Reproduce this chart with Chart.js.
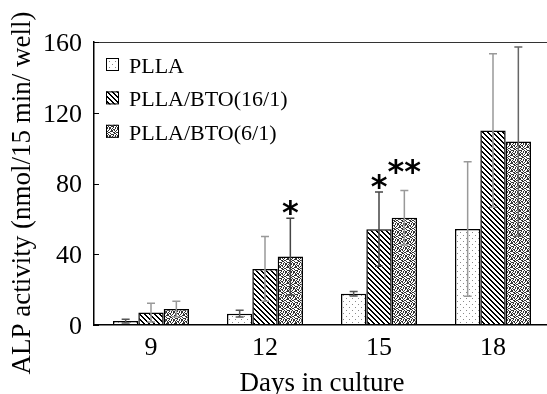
<!DOCTYPE html>
<html>
<head>
<meta charset="utf-8">
<script src="https://cdn.jsdelivr.net/npm/chart.js@4.4.1/dist/chart.umd.min.js"></script>
<style>
  html, body { margin: 0; padding: 0; background: #fff; overflow: hidden; }
  #wrap { width: 547px; height: 394px; overflow: hidden; }
  canvas { display: block; }
</style>
</head>
<body>
<div id="wrap"><canvas id="alpChart" width="560" height="400"></canvas></div>
<script>
// data
const days = ['9', '12', '15', '18'];
const seriesNames = ['PLLA', 'PLLA/BTO(16/1)', 'PLLA/BTO(6/1)'];
const pllaMean  = [2.2, 6.4, 17.7, 54.3];
const bto16Mean = [7.0, 31.7, 54.2, 110.0];
const bto6Mean  = [9.0, 38.7, 60.7, 103.7];
const pllaSD  = [1.0, 1.9, 1.3, 38.0];
const bto16SD = [5.3, 18.3, 21.0, 43.4];
const bto6SD  = [4.4, 21.7, 15.4, 53.5];
const yTicks = [0, 40, 80, 120, 160];

// significance marks (day, series index, text, height in y units)
const starDays   = ['12', '15', '15'];
const starSeries = [2, 1, 2];
const starText   = ['*', '*', '**'];
const starAt     = [65.6, 80.6, 89.1];

const means = [pllaMean, bto16Mean, bto6Mean];
const sds   = [pllaSD, bto16SD, bto6SD];
// error bar shades, as in the figure
const errColors = [
  ['#555', '#555', '#555', '#999'],
  ['#999', '#999', '#444', '#999'],
  ['#999', '#444', '#999', '#666']
];

const canvas = document.getElementById('alpChart');
const ctx = canvas.getContext('2d');

function tile(size, paint) {
  const c = document.createElement('canvas');
  c.width = size; c.height = size;
  const g = c.getContext('2d');
  g.fillStyle = '#fff';
  g.fillRect(0, 0, size, size);
  paint(g, size);
  return ctx.createPattern(c, 'repeat');
}

// sparse grey dots
const dotsLight = tile(6, (g) => {
  g.fillStyle = '#8a8a8a';
  g.fillRect(1, 1, 1, 1);
  g.fillRect(4, 4, 1, 1);
});
// black diagonal hatch
const hatch = tile(5, (g, n) => {
  g.fillStyle = '#000';
  for (let x = 0; x < n; x++) {
    for (let y = 0; y < n; y++) {
      if ((((x - y) % n) + n) % n < 2) g.fillRect(x, y, 1, 1);
    }
  }
});
// dense stipple
const stippleRows = [
  '10010110',
  '01100101',
  '10101001',
  '10010011',
  '01101100',
  '00110010',
  '11001001',
  '01010110'
];
const stipple = tile(8, (g) => {
  g.fillStyle = '#333';
  stippleRows.forEach((row, y) => {
    [...row].forEach((ch, x) => { if (ch === '1') g.fillRect(x, y, 1, 1); });
  });
});
const fills = [dotsLight, hatch, stipple];

const serif = '"Liberation Serif", "Times New Roman", serif';

const decor = {
  id: 'decor',
  afterDatasetsDraw(chart) {
    const c = chart.ctx;
    const y = chart.scales.y;
    c.save();
    c.lineWidth = 1.5;
    sds.forEach((sd, s) => {
      chart.getDatasetMeta(s).data.forEach((bar, i) => {
        const m = means[s][i];
        const top = y.getPixelForValue(m + sd[i]);
        const bot = y.getPixelForValue(Math.max(0, m - sd[i]));
        c.strokeStyle = errColors[s][i];
        c.beginPath();
        c.moveTo(bar.x, top); c.lineTo(bar.x, bot);
        c.moveTo(bar.x - 4, top); c.lineTo(bar.x + 4, top);
        c.moveTo(bar.x - 4, bot); c.lineTo(bar.x + 4, bot);
        c.stroke();
      });
    });
    c.restore();
  },
  afterDraw(chart) {
    const c = chart.ctx;
    const a = chart.chartArea;
    const y = chart.scales.y;
    c.save();

    // frame top / right
    c.strokeStyle = '#333';
    c.lineWidth = 1;
    c.beginPath();
    c.moveTo(a.left, a.top + 0.5); c.lineTo(a.right, a.top + 0.5); c.lineTo(a.right, a.bottom);
    c.stroke();

    // inner ticks on the y axis
    c.strokeStyle = '#000';
    yTicks.forEach(v => {
      const py = Math.round(y.getPixelForValue(v)) + 0.5;
      c.beginPath(); c.moveTo(a.left, py); c.lineTo(a.left + 5, py); c.stroke();
    });

    // y title
    c.fillStyle = '#000';
    c.font = '27px ' + serif;
    c.textAlign = 'center';
    c.textBaseline = 'middle';
    c.translate(23, 193);
    c.rotate(-Math.PI / 2);
    c.fillText('ALP activity (nmol/15 min/ well)', 0, 0);
    c.setTransform(1, 0, 0, 1, 0, 0);

    // legend
    c.font = '22px ' + serif;
    c.textAlign = 'left';
    c.textBaseline = 'alphabetic';
    seriesNames.forEach((name, s) => {
      const base = 73 + s * 33.4;
      c.fillStyle = fills[s];
      c.fillRect(106, base - 15, 13, 13);
      c.strokeStyle = '#000';
      c.lineWidth = 1;
      c.strokeRect(106.5, base - 14.5, 12, 12);
      c.fillStyle = '#000';
      c.fillText(name, 129, base);
    });

    // significance stars
    c.font = 'bold 32px "DejaVu Sans", sans-serif';
    c.textAlign = 'center';
    starText.forEach((t, k) => {
      const bar = chart.getDatasetMeta(starSeries[k]).data[days.indexOf(starDays[k])];
      c.fillText(t, bar.x, y.getPixelForValue(starAt[k]) + 14.5);
    });

    c.restore();
  }
};

new Chart(ctx, {
  type: 'bar',
  data: {
    labels: days,
    datasets: seriesNames.map((name, s) => ({
      label: name,
      data: means[s],
      backgroundColor: fills[s],
      borderColor: '#000',
      borderWidth: 1.5,
      categoryPercentage: 0.667,
      barPercentage: 1.0
    }))
  },
  options: {
    responsive: false,
    animation: false,
    events: [],
    layout: { padding: { top: 42, right: 10, left: 0, bottom: 0 } },
    plugins: { legend: { display: false }, tooltip: { enabled: false } },
    scales: {
      x: {
        grid: { display: false, drawTicks: false },
        border: { color: '#000', width: 1.5, z: 1 },
        ticks: { color: '#000', font: { family: serif, size: 26 }, padding: 8 },
        title: {
          display: true, text: 'Days in culture', color: '#000',
          font: { family: serif, size: 27, lineHeight: 1 },
          padding: { top: 0, bottom: 3 }
        },
        afterFit: (scale) => { scale.height = 75; }
      },
      y: {
        min: 0, max: 160,
        grid: { display: false, drawTicks: false },
        border: { color: '#000', width: 1.5, z: 1 },
        ticks: {
          stepSize: 40, color: '#000', padding: 12, labelOffset: 2,
          font: { family: serif, size: 26 }
        },
        afterFit: (scale) => { scale.width = 94; }
      }
    }
  },
  plugins: [decor]
});
</script>
</body>
</html>
